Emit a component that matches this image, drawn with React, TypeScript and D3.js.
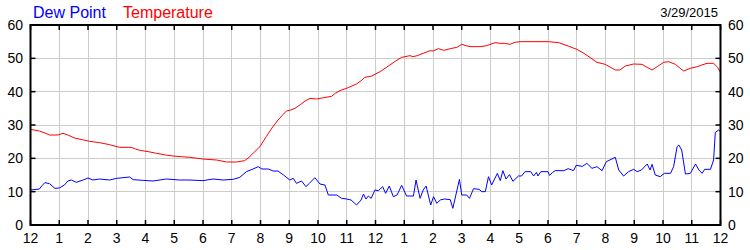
import React from "react";
import * as d3 from "d3";

const hourLabels = ["12","1","2","3","4","5","6","7","8","9","10","11","12","1","2","3","4","5","6","7","8","9","10","11","12"];
const yTicks = [0, 10, 20, 30, 40, 50, 60];
const dateLabel = "3/29/2015";
const seriesNames = ["Dew Point", "Temperature"];

const tempHours = [0,0.31,0.5,0.66,0.95,1.13,1.3,1.53,1.8,2.06,2.4,2.75,3.1,3.5,3.65,3.8,4.1,4.38,4.7,4.96,5.25,5.54,6.0,6.47,6.82,7.16,7.45,7.6,7.74,7.98,8.2,8.43,8.61,8.75,8.9,9.05,9.2,9.4,9.55,9.72,9.95,10.2,10.47,10.6,10.76,11.05,11.34,11.5,11.63,11.87,12.16,12.5,12.7,12.91,13.2,13.3,13.45,13.66,13.9,14.0,14.19,14.37,14.6,14.83,15.0,15.15,15.29,15.64,15.87,16.16,16.34,16.5,16.68,16.85,17.03,18.02,18.37,18.7,19.0,19.25,19.47,19.7,19.99,20.2,20.34,20.5,20.69,20.98,21.27,21.45,21.62,21.8,22.02,22.2,22.43,22.6,22.72,22.95,23.19,23.35,23.53,23.76,23.9,24.0];
const tempValues = [28.7,28.2,27.6,27.0,27.0,27.5,27.0,26.1,25.6,25.1,24.7,24.1,23.3,23.3,22.8,22.4,22.0,21.5,21.0,20.7,20.5,20.3,19.8,19.5,18.9,18.9,19.3,20.3,21.5,23.5,26.5,29.5,31.5,32.8,34.2,34.5,35.0,36.2,37.2,38.0,37.8,38.2,38.6,39.5,40.3,41.2,42.3,43.3,44.3,44.7,46.0,48.0,49.2,50.3,50.8,50.5,50.8,51.5,52.3,52.2,52.9,52.4,52.9,53.3,54.2,53.8,53.5,53.5,53.8,54.7,54.5,54.5,54.2,54.8,55.0,55.0,54.7,53.7,52.7,51.5,50.2,48.8,48.2,47.2,46.5,46.5,47.7,48.3,48.2,47.3,46.5,47.5,48.8,49.0,48.2,47.0,46.2,47.0,47.5,48.0,48.5,48.5,47.3,45.7];

const dewHours = [0,0.31,0.4,0.5,0.66,0.85,1.0,1.18,1.3,1.42,1.59,1.83,2.0,2.17,2.4,2.75,3.0,3.45,3.57,3.9,4.26,4.72,5.19,5.54,6.0,6.35,6.7,7.05,7.28,7.51,7.74,7.92,8.05,8.27,8.44,8.61,8.8,9.02,9.14,9.25,9.43,9.58,9.7,9.89,10.07,10.24,10.36,10.65,10.82,11.0,11.15,11.34,11.5,11.58,11.67,11.75,11.85,11.98,12.1,12.25,12.35,12.48,12.62,12.75,12.91,13.08,13.32,13.41,13.55,13.66,13.76,13.92,14.02,14.13,14.25,14.4,14.6,14.69,14.92,15.0,15.17,15.27,15.41,15.6,15.7,15.82,15.93,16.04,16.24,16.34,16.43,16.54,16.66,16.78,16.97,17.08,17.2,17.4,17.5,17.6,17.65,17.75,18.0,18.05,18.15,18.25,18.55,18.7,18.89,18.98,19.2,19.35,19.53,19.7,19.88,20.03,20.34,20.46,20.63,20.8,20.98,21.1,21.25,21.45,21.55,21.62,21.73,21.9,22.05,22.26,22.37,22.49,22.55,22.65,22.78,22.95,23.13,23.25,23.36,23.45,23.65,23.76,23.82,23.94,24.0];
const dewValues = [10.5,10.8,11.8,12.7,12.4,11.0,11.1,12.0,13.2,13.5,12.8,13.5,14.1,13.5,13.8,13.5,14.0,14.4,13.6,13.4,13.2,13.8,13.5,13.5,13.3,13.8,13.5,13.7,14.3,16.0,16.8,17.5,16.8,16.8,16.2,16.2,15.0,13.5,14.0,12.5,13.2,11.5,12.5,14.2,12.3,12.0,9.0,9.0,8.0,7.8,7.5,6.0,7.5,9.3,7.8,8.7,8.0,10.5,10.3,11.5,9.5,11.7,8.5,9.0,11.9,8.7,8.7,13.5,8.0,10.5,11.7,6.0,8.5,6.5,7.5,7.8,7.6,5.0,13.7,9.0,9.0,8.0,10.9,10.7,10.0,10.0,14.5,12.0,15.5,13.3,16.3,13.8,15.1,13.1,14.7,14.7,16.0,16.0,14.7,15.8,14.7,16.0,16.0,14.9,15.7,16.3,16.3,16.9,16.3,17.9,17.6,18.5,17.0,17.5,16.3,19.0,20.3,16.5,14.7,16.0,16.7,16.0,16.5,18.3,16.5,18.2,15.0,14.5,15.5,15.5,17.5,23.5,24.0,22.5,15.3,15.5,18.3,16.5,15.5,16.7,16.7,19.5,27.8,28.5,28.0];

const W = 750, H = 250;
const L = 30.5, R = 720.5, T = 25, B = 225;

export default function App() {
  const x = d3.scaleLinear().domain([0, 24]).range([L, R]);
  const y = d3.scaleLinear().domain([0, 60]).range([B, T]);
  const line = d3.line<[number, number]>().x(d => x(d[0])).y(d => y(d[1]));
  const tempPath = line(tempHours.map((h, i) => [h, tempValues[i]]) as [number, number][]) || "";
  const dewPath = line(dewHours.map((h, i) => [h, dewValues[i]]) as [number, number][]) || "";
  const hours = d3.range(0, 25);
  const tickFont = "'Liberation Sans Narrow', 'Arial Narrow', 'Liberation Sans', Arial, sans-serif";
  const font = "'Liberation Sans', Arial, sans-serif";
  return (
    <svg width={W} height={H} style={{ position: "absolute", left: 0, top: 0, background: "#fff" }}>
      <rect x={0} y={0} width={W} height={H} fill="#fff" />
      {hours.slice(1, 24).map(h => (
        <line key={"vg" + h} x1={x(h)} x2={x(h)} y1={T} y2={B} stroke="#cccccc" strokeWidth={1} shapeRendering="crispEdges" />
      ))}
      {yTicks.slice(1, 6).map(v => (
        <line key={"hg" + v} x1={L} x2={R} y1={y(v)} y2={y(v)} stroke="#cccccc" strokeWidth={1} shapeRendering="crispEdges" />
      ))}
      <path d={dewPath} fill="none" stroke="#0000ff" strokeWidth={1} />
      <path d={tempPath} fill="none" stroke="#ff0000" strokeWidth={1} />
      {hours.map(h => (
        <g key={"xt" + h}>
          <line x1={x(h)} x2={x(h)} y1={B} y2={B - 5} stroke="#000" strokeWidth={1.5} />
          <line x1={x(h)} x2={x(h)} y1={T} y2={T + 5} stroke="#000" strokeWidth={1.5} />
        </g>
      ))}
      {yTicks.map(v => (
        <g key={"yt" + v}>
          <line x1={L} x2={L + 5} y1={y(v)} y2={y(v)} stroke="#000" strokeWidth={1.5} />
          <line x1={R} x2={R - 5} y1={y(v)} y2={y(v)} stroke="#000" strokeWidth={1.5} />
        </g>
      ))}
      <rect x={L} y={T} width={R - L} height={B - T} fill="none" stroke="#000" strokeWidth={2} />
      {yTicks.map(v => (
        <text key={"yl" + v} x={23} y={y(v)} dy="0.36em" textAnchor="end" fontFamily={tickFont} fontSize={14} fill="#000">{v}</text>
      ))}
      {yTicks.map(v => (
        <text key={"yr" + v} x={728} y={y(v)} dy="0.36em" textAnchor="start" fontFamily={tickFont} fontSize={14} fill="#000">{v}</text>
      ))}
      {hourLabels.map((lab, i) => (
        <text key={"xl" + i} x={x(i)} y={243} textAnchor="middle" fontFamily={tickFont} fontSize={14} fill="#000">{lab}</text>
      ))}
      <text x={33} y={18} fontFamily={font} fontSize={16} fill="#0000ff">{seriesNames[0]}</text>
      <text x={123} y={18} fontFamily={font} fontSize={16} fill="#ff0000">{seriesNames[1]}</text>
      <text x={718} y={17} textAnchor="end" fontFamily={font} fontSize={13} fill="#000">{dateLabel}</text>
    </svg>
  );
}
